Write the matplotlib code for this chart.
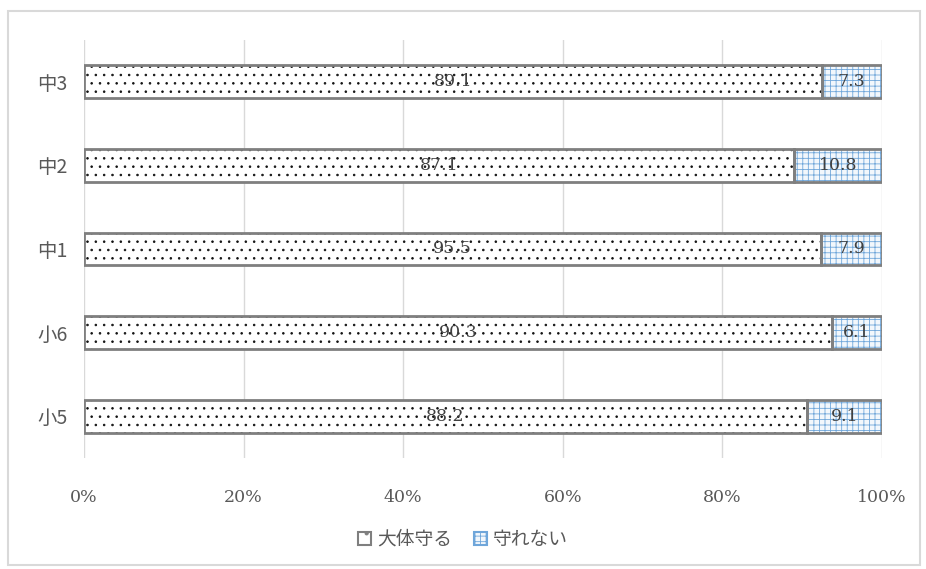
import numpy as np
import matplotlib.pyplot as plt
from matplotlib.patches import Rectangle, Patch

# data (top to bottom in the picture)
grades = ['中3', '中2', '中1', '小6', '小5']
keep = [89.1, 87.1, 95.5, 90.3, 88.2]      # 大体守る
not_keep = [7.3, 10.8, 7.9, 6.1, 9.1]      # 守れない
series_names = ['大体守る', '守れない']

plt.rcParams['font.family'] = ['Noto Sans CJK JP', 'DejaVu Sans']
plt.rcParams['hatch.linewidth'] = 0.6

keep = np.array(keep)
not_keep = np.array(not_keep)
total = keep + not_keep
p1 = keep / total * 100
p2 = not_keep / total * 100

fig = plt.figure(figsize=(9.26, 5.69), dpi=100)
ax = fig.add_axes([0.0907, 0.195, 0.8618, 0.735])

# frame around the whole chart
fig.patches.append(Rectangle((8 / 926, 4 / 569), 912 / 926, 554 / 569,
                             transform=fig.transFigure, fill=False,
                             edgecolor='#d9d9d9', linewidth=1.5))

y = np.arange(len(grades))[::-1]
h = 0.39
gray = '#7f7f7f'
blue = '#6fa6da'

# pattern fill first, outline on top
ax.barh(y, p1, height=h, color='white', edgecolor='#111111', hatch='..', linewidth=0, zorder=2)
ax.barh(y, p2, left=p1, height=h, color='#f2f7fc', edgecolor=blue, hatch='+++', linewidth=0, zorder=2)
ax.barh(y, p1, height=h, fill=False, edgecolor=gray, linewidth=2, zorder=3)
ax.barh(y, p2, left=p1, height=h, fill=False, edgecolor=gray, linewidth=2, zorder=3)

for yi, a, b, va, vb in zip(y, p1, p2, keep, not_keep):
    ax.text(a / 2, yi, f'{va:.1f}', ha='center', va='center', fontsize=12.5,
            family='DejaVu Serif', color='#404040', zorder=4)
    ax.text(a + b / 2, yi, f'{vb:.1f}', ha='center', va='center', fontsize=12.5,
            family='DejaVu Serif', color='#404040', zorder=4)

ax.set_xlim(0, 100)
ax.set_ylim(-0.5, len(grades) - 0.5)
ax.set_xticks(np.arange(0, 101, 20))
ax.set_xticklabels([f'{v}%' for v in range(0, 101, 20)], family='DejaVu Serif')
ax.set_yticks(y)
ax.set_yticklabels(grades)
ax.tick_params(axis='both', length=0, colors='#595959')
ax.tick_params(axis='x', pad=22, labelsize=12.5)
ax.tick_params(axis='y', pad=12, labelsize=14)
ax.grid(axis='x', color='#d9d9d9', linewidth=1, zorder=0)
ax.set_axisbelow(True)
for s in ax.spines.values():
    s.set_visible(False)

handles = [Patch(facecolor='white', edgecolor=gray, hatch='.', linewidth=1.5),
           Patch(facecolor='#f2f7fc', edgecolor=blue, hatch='+++', linewidth=1.5)]
fig.legend(handles, series_names, loc='center', bbox_to_anchor=(0.5, 0.052), ncol=2,
           frameon=False, fontsize=13.5, handlelength=0.7, handleheight=0.7,
           handletextpad=0.3, columnspacing=1.2, labelcolor='#595959')

fig.savefig('out.png', dpi=100)
